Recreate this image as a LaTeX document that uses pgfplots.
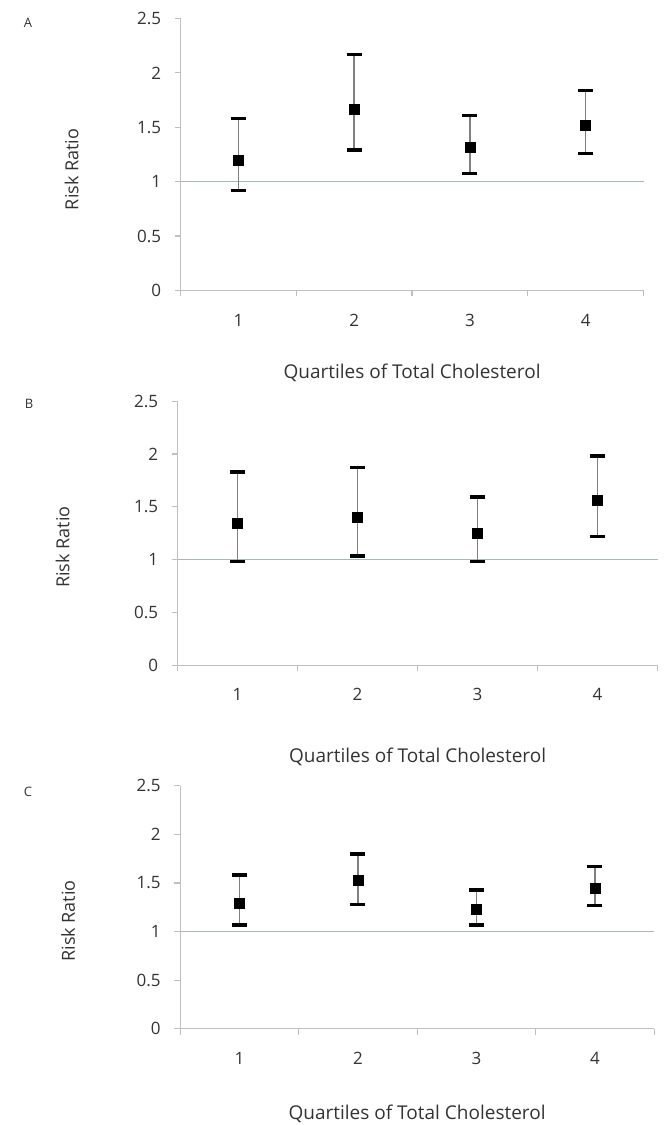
\documentclass[border=0pt]{standalone}
\usepackage{pgfplots}
\pgfplotsset{compat=1.18}
\usepackage{fontspec}
\setmainfont{Open Sans}
\definecolor{axgray}{HTML}{BFBFBF}
\definecolor{refline}{HTML}{A6B7C3}
\definecolor{whisk}{HTML}{7F7F7F}
\definecolor{txt}{HTML}{333333}
\pgfplotsset{
  rr/.style={
    scale only axis,
    xmin=0.5, xmax=4.5, ymin=0, ymax=2.5,
    axis x line*=bottom, axis y line*=left,
    axis line style={axgray, line width=1.2pt},
    xtick={1,2,3,4},
    ytick={0,0.5,1,1.5,2,2.5},
    minor xtick={0.5,1.5,2.5,3.5,4.5},
    major x tick style={draw=none},
    minor x tick style={axgray, line width=1.2pt},
    y tick style={axgray, line width=1.2pt},
    tick align=outside,
    major tick length=6pt, minor tick length=6pt,
    /pgf/number format/assume math mode=true,
    tick label style={font=\fontsize{17}{20}\selectfont, text=txt, overlay},
    yticklabel style={xshift=-10pt},
    xticklabel style={yshift=-14pt},
    xlabel style={font=\fontsize{19}{22}\selectfont, text=txt, overlay},
    ylabel style={font=\fontsize{18}{21}\selectfont, text=txt, overlay},
    clip=false,
  },
  ci/.style={
    only marks, mark=square*, mark size=5pt, black,
    error bars/.cd, y dir=both, y explicit,
    error bar style={whisk, line width=1.4pt},
    error mark options={rotate=90, black, line width=3.5pt, mark size=7.5pt},
  },
}
\begin{document}
\begin{tikzpicture}[x=1pt,y=1pt]
\useasboundingbox (0,0) rectangle (669,1125);
% Panel A
\begin{axis}[rr, at={(156,767)}, anchor=south west, width=463pt, height=272pt,
  xlabel={Quartiles of Total Cholesterol}, ylabel={Risk Ratio},
  xlabel style={at={(axis description cs:0.5,-0.3015)}, anchor=center},
  ylabel style={at={(axis description cs:-0.2354,0.445)}, anchor=center}]
\addplot[refline, line width=1.3pt] coordinates {(0.5,1) (4.5,1)};
\addplot[ci] table[x=q, y=rr, y error plus=ep, y error minus=em] {
q rr ep em
1 1.20 0.38 0.28
2 1.67 0.50 0.38
3 1.32 0.29 0.245
4 1.52 0.32 0.26
};
\end{axis}
\node[font=\fontsize{13}{16}\selectfont, text=txt] at (28,1102) {A};
% Panel B
\begin{axis}[rr, at={(148,435.5)}, anchor=south west, width=480pt, height=264pt,
  xlabel={Quartiles of Total Cholesterol}, ylabel={Risk Ratio},
  xlabel style={at={(axis description cs:0.5,-0.3485)}, anchor=center},
  ylabel style={at={(axis description cs:-0.2396,0.447)}, anchor=center}]
\addplot[refline, line width=1.3pt] coordinates {(0.5,1) (4.5,1)};
\addplot[ci] table[x=q, y=rr, y error plus=ep, y error minus=em] {
q rr ep em
1 1.34 0.49 0.36
2 1.40 0.47 0.365
3 1.25 0.34 0.27
4 1.56 0.42 0.34
};
\end{axis}
\node[font=\fontsize{13}{16}\selectfont, text=txt] at (29,721) {B};
% Panel C
\begin{axis}[rr, at={(152,99)}, anchor=south west, width=474pt, height=243pt,
  xlabel={Quartiles of Total Cholesterol}, ylabel={Risk Ratio},
  xlabel style={at={(axis description cs:0.5,-0.3498)}, anchor=center},
  ylabel style={at={(axis description cs:-0.2363,0.444)}, anchor=center}]
\addplot[refline, line width=1.3pt] coordinates {(0.5,1) (4.5,1)};
\addplot[ci] table[x=q, y=rr, y error plus=ep, y error minus=em] {
q rr ep em
1 1.29 0.29 0.22
2 1.53 0.27 0.25
3 1.23 0.20 0.16
4 1.45 0.22 0.18
};
\end{axis}
\node[font=\fontsize{13}{16}\selectfont, text=txt] at (28,333) {C};
\end{tikzpicture}
\end{document}
